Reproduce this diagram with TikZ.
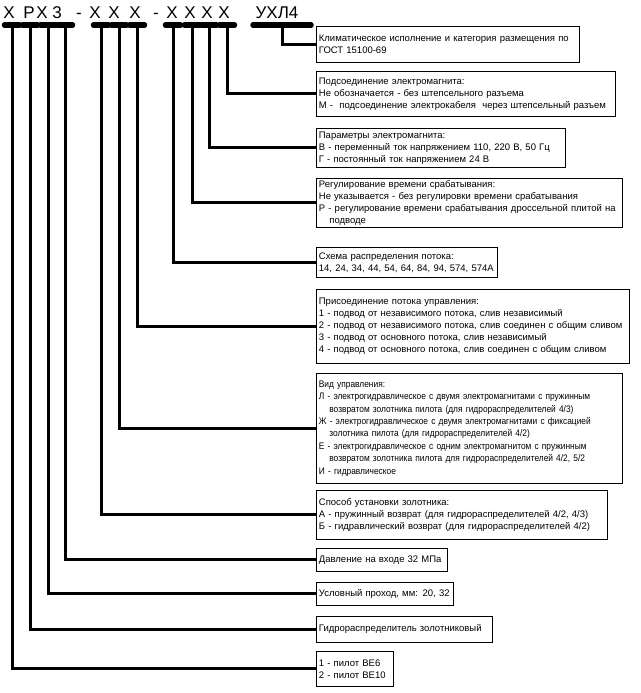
\documentclass[tikz,border=0pt]{standalone}
\usepackage{fontspec}
\setmainfont{Liberation Sans}
\newfontfamily\narrowfont[FakeStretch=0.88]{Liberation Sans}
\begin{document}
\begin{tikzpicture}[x=1pt,y=-1pt,
  box/.style={draw, line width=0.8pt, anchor=north west, align=left, inner xsep=2.5pt, inner ysep=1pt, font=\fontsize{9.5}{12}\selectfont},
  conn/.style={line width=3pt},
  bar/.style={line width=5.5pt, line cap=round},
  code/.style={font=\fontsize{17}{17}\selectfont, anchor=base, inner sep=0pt}]
\useasboundingbox (0,0) rectangle (640,693);
% code letters
\node[code] (c1) at (9,19) {Х};
\node[code] (c2) at (29,19) {Р};
\node[code] (c3) at (42,19) {Х};
\node[code] (c4) at (57,19) {3};
\node[code] (d1) at (79,19) {-};
\node[code] (c5) at (95,19) {Х};
\node[code] (c6) at (114,19) {Х};
\node[code] (c7) at (135,19) {Х};
\node[code] (d2) at (156,19) {-};
\node[code] (c8) at (172,19) {Х};
\node[code] (c9) at (190,19) {Х};
\node[code] (c10) at (207,19) {Х};
\node[code] (c11) at (224,19) {Х};
\node[code] (c12) at (277,19) {УХЛ4};
% boxes
\node[box, text width=258pt, minimum height=36pt] (b1) at (316,26) {Климатическое исполнение и категория размещения по\\ГОСТ 15100-69};
\node[box, text width=294pt, minimum height=45pt] (b2) at (316,71) {Подсоединение электромагнита:\\Не обозначается - без штепсельного разъема\\М - \ подсоединение электрокабеля \ через штепсельный разъем};
\node[box, text width=244pt, minimum height=39pt] (b3) at (316,128) {Параметры электромагнита:\\В - переменный ток напряжением 110, 220 В, 50 Гц\\Г - постоянный ток напряжением 24 В};
\node[box, text width=301pt, minimum height=49pt] (b4) at (316,178) {Регулирование времени срабатывания:\\Не указывается - без регулировки времени срабатывания\\Р - регулирование времени срабатывания дроссельной плитой на\\\hspace*{1.1em}подводе};
\node[box, text width=176pt, minimum height=30pt] (b5) at (316,247) {Схема распределения потока:\\14, 24, 34, 44, 54, 64, 84, 94, 574, 574А};
\node[box, text width=308pt, minimum height=74pt] (b6) at (316,289) {Присоединение потока управления:\\1 - подвод от независимого потока, слив независимый\\2 - подвод от независимого потока, слив соединен с общим сливом\\3 - подвод от основного потока, слив независимый\\4 - подвод от основного потока, слив соединен с общим сливом};
\node[box, text width=301pt, minimum height=110pt, font=\narrowfont\fontsize{9.5}{12.4}\selectfont] (b7) at (316,373) {Вид управления:\\Л - электрогидравлическое с двумя электромагнитами с пружинным\\\hspace*{1.1em}возвратом золотника пилота (для гидрораспределителей 4/3)\\Ж - электрогидравлическое с двумя электромагнитами с фиксацией\\\hspace*{1.1em}золотника пилота (для гидрораспределителей 4/2)\\Е - электрогидравлическое с одним электромагнитом с пружинным\\\hspace*{1.1em}возвратом золотника пилота для гидрораспределителей 4/2, 5/2\\И - гидравлическое};
\node[box, text width=286pt, minimum height=49pt] (b8) at (316,490) {Способ установки золотника:\\А - пружинный возврат (для гидрораспределителей 4/2, 4/3)\\Б - гидравлический возврат (для гидрораспределителей 4/2)};
\node[box, text width=126pt, minimum height=23pt] (b9) at (316,548) {Давление на входе 32 МПа};
\node[box, text width=132pt, minimum height=23pt] (b10) at (316,582) {Условный проход, мм: 20, 32};
\node[box, text width=171pt, minimum height=26pt] (b11) at (316,616) {Гидрораспределитель золотниковый};
\node[box, text width=72pt, minimum height=35pt] (b12) at (316,651) {1 - пилот ВЕ6\\2 - пилот ВЕ10};
% bar top coordinates
\foreach \n/\x in {1/12,2/30,3/48,4/65,5/101,6/119,7/137,8/173,9/192,10/209,11/227,12/282}
  \coordinate (t\n) at (\x,25);
% connectors
\draw[conn] (t12) |- (b1.west);
\draw[conn] (t11) |- (b2.west);
\draw[conn] (t10) |- (b3.west);
\draw[conn] (t9) |- (b4.west);
\draw[conn] (t8) |- (b5.west);
\draw[conn] (t7) |- (b6.west);
\draw[conn] (t6) |- (b7.west);
\draw[conn] (t5) |- (b8.west);
\draw[conn] (t4) |- (b9.west);
\draw[conn] (t3) |- (b10.west);
\draw[conn] (t2) |- (b11.west);
\draw[conn] (t1) |- (b12.west);
% bars
\foreach \n in {1,...,11}
  \draw[bar] ([xshift=-7.5pt]t\n) -- ([xshift=7.5pt]t\n);
\draw[bar] ([xshift=-29pt]t12) -- ([xshift=29pt]t12);
\end{tikzpicture}
\end{document}
